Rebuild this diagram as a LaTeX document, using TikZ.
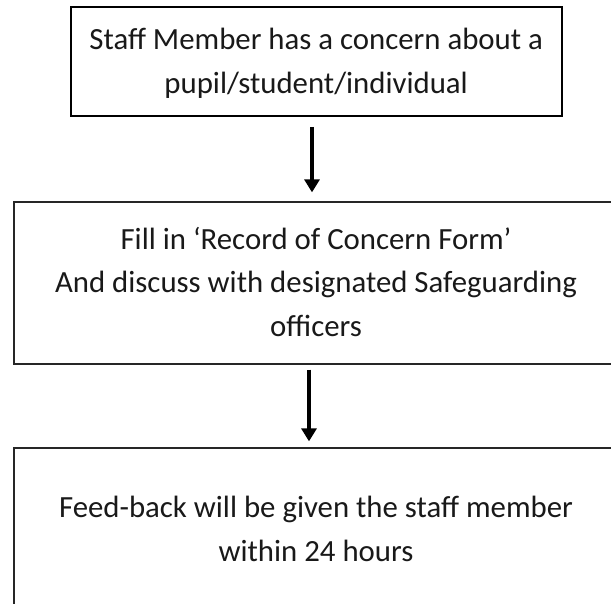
\documentclass[tikz,border=0pt]{standalone}
\usepackage{fontspec}
\setmainfont{Carlito}
\usetikzlibrary{arrows.meta}
\newcommand\boxstrut{\vrule height 32pt depth 12pt width 0pt}
\begin{document}
\begin{tikzpicture}[x=1pt,y=-1pt,
  boxtext/.style={font=\fontsize{30.8}{44}\selectfont, align=center, inner sep=0pt, text=black!90},
  flowbox/.style={boxtext, rectangle, draw=black!85, line width=1.3pt},
  topbox/.style={boxtext, rectangle, draw=black, line width=2pt},
  arr/.style={line width=3.6pt, -{Triangle[width=15pt,length=13pt]}}]
\clip (0,0) rectangle (611,604);
\fill[white] (0,0) rectangle (611,604);
\node[topbox, minimum width=491pt, minimum height=109pt] (b1) at (316.2,61.5)
  {\boxstrut Staff Member has a concern about a\\\boxstrut pupil/student/individual};
\node[flowbox, minimum width=604pt, minimum height=162pt] (b2) at (316,283)
  {\boxstrut Fill in ‘Record of Concern Form’\\\boxstrut And discuss with designated Safeguarding\\\boxstrut officers};
\node[flowbox, minimum width=604pt, minimum height=163pt] (b3) at (316,529.5)
  {\boxstrut Feed-back will be given the staff member\\\boxstrut within 24 hours};
\coordinate (ax1) at (312,0);
\coordinate (ax2) at (309,0);
\draw[arr, shorten <=10pt, shorten >=9pt] (b1.south -| ax1) -- (b2.north -| ax1);
\draw[arr, shorten <=5pt, shorten >=6pt] (b2.south -| ax2) -- (b3.north -| ax2);
\end{tikzpicture}
\end{document}
